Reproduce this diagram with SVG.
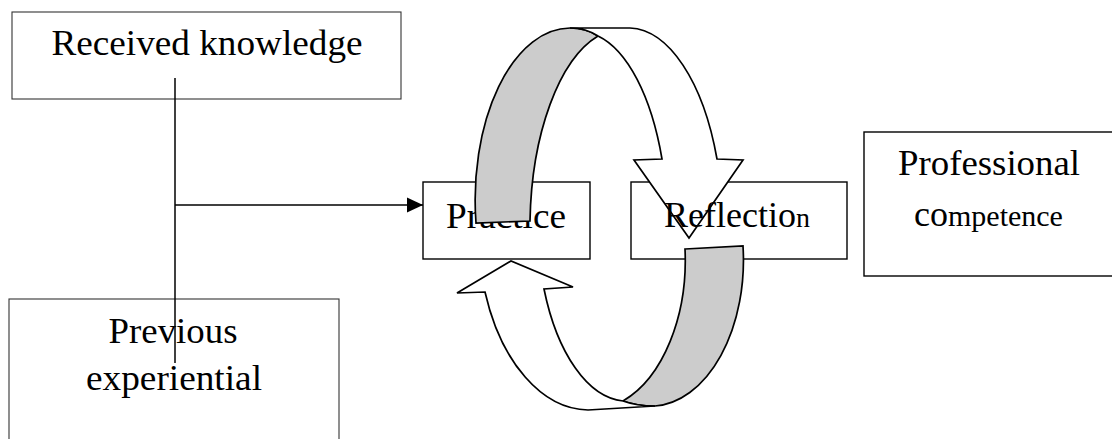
<svg xmlns="http://www.w3.org/2000/svg" width="1112" height="439" viewBox="0 0 1112 439">
<style>
.box{fill:#fff;stroke:#000;stroke-width:1.4}
.thin{fill:#fff;stroke:#333;stroke-width:1.1}
.t{font-family:"Liberation Serif","Times New Roman",serif;font-size:35px;fill:#000}
.rib{stroke:#000;stroke-width:1.7;stroke-linejoin:miter}
.g{fill:#ccc}
.w{fill:#fff}
.con{stroke:#000;stroke-width:1.5;fill:none}
</style>
<defs>
<marker id="ah" markerWidth="16" markerHeight="16" refX="15" refY="7" orient="auto" markerUnits="userSpaceOnUse" viewBox="0 0 15 14">
<path d="M0,0 L15,7 L0,14 Z" fill="#000"/>
</marker>
</defs>
<rect width="1112" height="439" fill="#fff"/>
<g id="received-knowledge">
<rect class="thin" x="12" y="12" width="389" height="87"/>
<text class="t" x="207" y="55" text-anchor="middle" textLength="311" lengthAdjust="spacingAndGlyphs">Received knowledge</text>
</g>
<g id="previous-experiential">
<rect class="thin" x="9" y="299" width="330" height="150"/>
<text class="t" x="173" y="343" text-anchor="middle" textLength="129" lengthAdjust="spacingAndGlyphs">Previous</text>
<text class="t" x="174" y="390" text-anchor="middle" textLength="176" lengthAdjust="spacingAndGlyphs">experiential</text>
</g>
<g id="professional-competence">
<rect class="box" x="864" y="132" width="260" height="144"/>
<text class="t" x="989" y="175" text-anchor="middle" textLength="182" lengthAdjust="spacingAndGlyphs">Professional</text>
<text class="t" x="914" y="226"><tspan style="font-size:36px">co</tspan><tspan style="font-size:30px">mpetence</tspan></text>
</g>
<g id="practice">
<rect class="box" x="423" y="182" width="167" height="77"/>
<text class="t" x="506" y="228" text-anchor="middle" textLength="120" lengthAdjust="spacingAndGlyphs">Practice</text>
</g>
<g id="reflection">
<rect class="box" x="631" y="182" width="216" height="77"/>
</g>
<g id="connectors">
<line class="con" x1="175" y1="78" x2="175" y2="363"/>
<line class="con" x1="175" y1="205" x2="423" y2="205" marker-end="url(#ah)"/>
</g>
<g id="cycle-arrows">
<path class="rib g" d="M476,223 A95,172 0 0 1 570,28 C582,28 592,32 598,36 A93,200 0 0 0 530,221 Z"/>
<path class="rib w" d="M570,28 L630,28 A95,202 0 0 1 717,159 L743,160 L689,238 L634,160 L662,159 A88,197 0 0 0 598,36 C592,32 582,28 570,28 Z"/>
<path class="rib g" d="M685,249 L743,246 A93,146 0 0 1 655,406 C642,406 631,404 623,401 A95,150 0 0 0 685,249 Z"/>
<path class="rib w" d="M588,410 L655,406 C642,406 631,404 623,401 A90,180 0 0 1 544,289 L573,287 L511,261 L457,293 L485,292 A111,180 0 0 0 588,410 Z"/>
</g>
<g id="reflection-label">
<text class="t" x="664" y="227"><tspan style="font-size:36px">Reflectio</tspan><tspan style="font-size:28px">n</tspan></text>
</g>
</svg>
